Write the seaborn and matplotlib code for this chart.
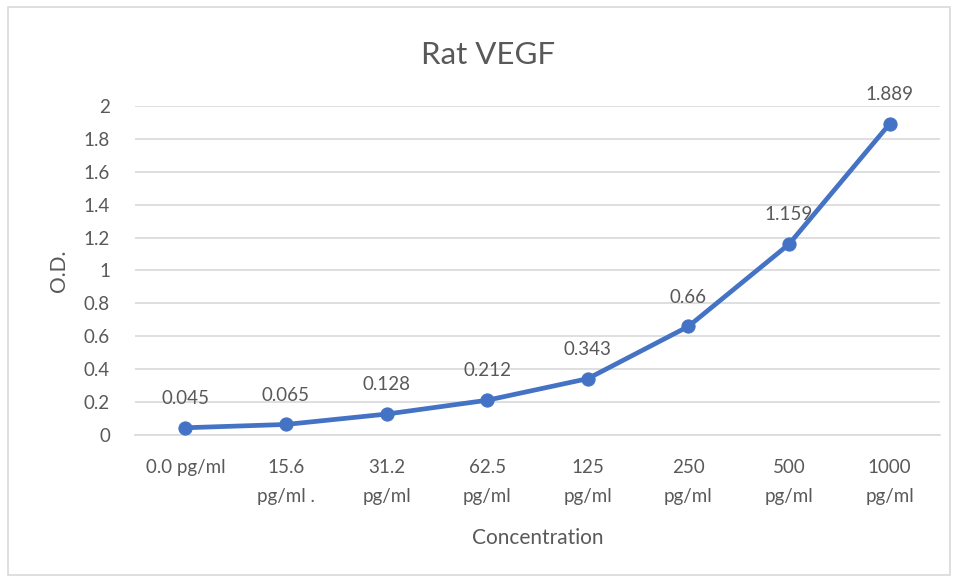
import matplotlib
matplotlib.use("Agg")
import matplotlib.pyplot as plt
import seaborn as sns
import pandas as pd
from matplotlib.patches import Rectangle

# ====== Data ======
concentrations = ["0.0 pg/ml", "15.6\npg/ml .", "31.2\npg/ml", "62.5\npg/ml",
                  "125\npg/ml", "250\npg/ml", "500\npg/ml", "1000\npg/ml"]
od_values = [0.045, 0.065, 0.128, 0.212, 0.343, 0.66, 1.159, 1.889]
od_labels = ["0.045", "0.065", "0.128", "0.212", "0.343", "0.66", "1.159", "1.889"]
y_ticks = [0, 0.2, 0.4, 0.6, 0.8, 1, 1.2, 1.4, 1.6, 1.8, 2]
y_tick_labels = ["0", "0.2", "0.4", "0.6", "0.8", "1", "1.2", "1.4", "1.6", "1.8", "2"]

df = pd.DataFrame({"pos": range(len(concentrations)), "od": od_values})

sns.set_style("white")
plt.rcParams["font.family"] = ["Lato", "DejaVu Sans"]
text_col = "#595959"
blue = "#4472C4"

fig = plt.figure(figsize=(9.58, 5.81), dpi=100)
ax = fig.add_axes([0.141, 0.251, 0.840, 0.567])

# chart border
fig.patches.append(Rectangle((8 / 958, 6 / 581), 942 / 958, 568 / 581,
                             transform=fig.transFigure, fill=False,
                             edgecolor="#D9D9D9", linewidth=1.2))

sns.lineplot(data=df, x="pos", y="od", ax=ax, color=blue, linewidth=3.4,
             marker="o", markersize=9.5, markeredgecolor=blue, zorder=3)

for x, y, lab in zip(df["pos"], df["od"], od_labels):
    ax.annotate(lab, (x, y), xytext=(0, 15), textcoords="offset points",
                ha="center", va="bottom", fontsize=13.5, color=text_col)

ax.set_xlim(-0.5, len(concentrations) - 0.5)
ax.set_ylim(0, 2)
ax.set_yticks(y_ticks)
ax.set_yticklabels(y_tick_labels)
ax.set_xticks(list(df["pos"]))
ax.set_xticklabels(concentrations, linespacing=1.85)
ax.tick_params(axis="both", length=0, labelsize=13.5, labelcolor=text_col)
ax.tick_params(axis="y", pad=18)
ax.tick_params(axis="x", pad=17)
ax.yaxis.grid(True, color="#D9D9D9", linewidth=1.2)
ax.set_axisbelow(True)
for side in ["top", "right", "left"]:
    ax.spines[side].set_visible(False)
ax.spines["bottom"].set_color("#D9D9D9")
ax.spines["bottom"].set_linewidth(1.2)

ax.set_title("Rat VEGF", fontsize=22.5, color=text_col, pad=30, x=0.4385)
ax.set_xlabel("Concentration", fontsize=15, color=text_col, labelpad=17)
ax.set_ylabel("O.D.", fontsize=15, color=text_col, labelpad=11)

fig.savefig("out.png", dpi=100)
